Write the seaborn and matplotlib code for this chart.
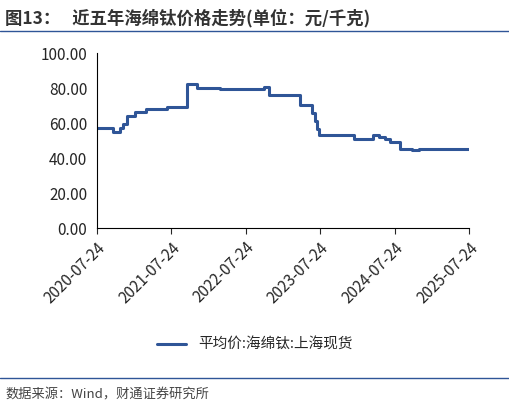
import pandas as pd
import seaborn as sns
from matplotlib import pyplot as plt
import matplotlib.dates as mdates
from matplotlib.lines import Line2D

dates = ['2020-07-24', '2020-10-13', '2020-11-15', '2020-11-30', '2020-12-18', '2021-01-28',
         '2021-03-20', '2021-07-01', '2021-10-10', '2021-11-25', '2022-03-20', '2022-10-20',
         '2022-11-14', '2023-04-15', '2023-06-14', '2023-07-01', '2023-07-10', '2023-07-20',
         '2024-01-05', '2024-04-08', '2024-05-08', '2024-06-05', '2024-06-30', '2024-08-18',
         '2024-10-15', '2024-11-18', '2025-07-24']
prices = [57.5, 55, 57.5, 59.5, 64, 66.5, 68, 69, 82.5, 80, 79.5, 80.5,
          76, 70.5, 66, 61, 56.5, 53.5, 51, 53.5, 52, 51, 49.5, 45.5,
          44.5, 45.5, 45.5]
xticks = ['2020-07-24', '2021-07-24', '2022-07-24', '2023-07-24', '2024-07-24', '2025-07-24']
series_name = '平均价:海绵钛:上海现货'

df = pd.DataFrame({'date': pd.to_datetime(dates), 'price': prices})

sns.set_style('white')
plt.rcParams['font.family'] = ['Noto Sans CJK SC', 'DejaVu Sans']
blue = '#2f5597'

fig = plt.figure(figsize=(5.1, 4.08), dpi=100)
ax = fig.add_axes([0.19, 0.44, 0.73, 0.43])
sns.lineplot(df, x='date', y='price', ax=ax, color=blue, linewidth=2.2, drawstyle='steps-post')

ax.set_ylim(0, 100)
ax.set_yticks(range(0, 101, 20))
ax.set_yticklabels([f'{v:.2f}' for v in range(0, 101, 20)], fontsize=11)
tick_dates = pd.to_datetime(xticks)
ax.set_xlim(tick_dates[0], tick_dates[-1])
ax.set_xticks(tick_dates)
ax.set_xticklabels(xticks, rotation=45, ha='right', rotation_mode='anchor', fontsize=11)
ax.tick_params(axis='x', direction='out', length=4, bottom=True)
ax.set_xlabel('')
ax.set_ylabel('')
for s in ['top', 'right']:
    ax.spines[s].set_visible(False)
for s in ['left', 'bottom']:
    ax.spines[s].set_color('black')
    ax.spines[s].set_linewidth(0.8)

fig.legend(handles=[Line2D([], [], color=blue, lw=2.2)], labels=[series_name],
           loc='center', bbox_to_anchor=(0.5, 0.155), frameon=False, fontsize=10.5)

fig.text(0.01, 0.955, '图13：   近五年海绵钛价格走势(单位：元/千克)', fontsize=12.5,
         fontweight='bold', color='#333333', va='center')
fig.add_artist(Line2D([0.0, 1.0], [0.925, 0.925], color=blue, lw=1))
fig.add_artist(Line2D([0.0, 1.0], [0.073, 0.073], color=blue, lw=1))
fig.text(0.01, 0.033, '数据来源：Wind，财通证券研究所', fontsize=9.5, color='#444444', va='center')

fig.savefig('out.png', dpi=100)
